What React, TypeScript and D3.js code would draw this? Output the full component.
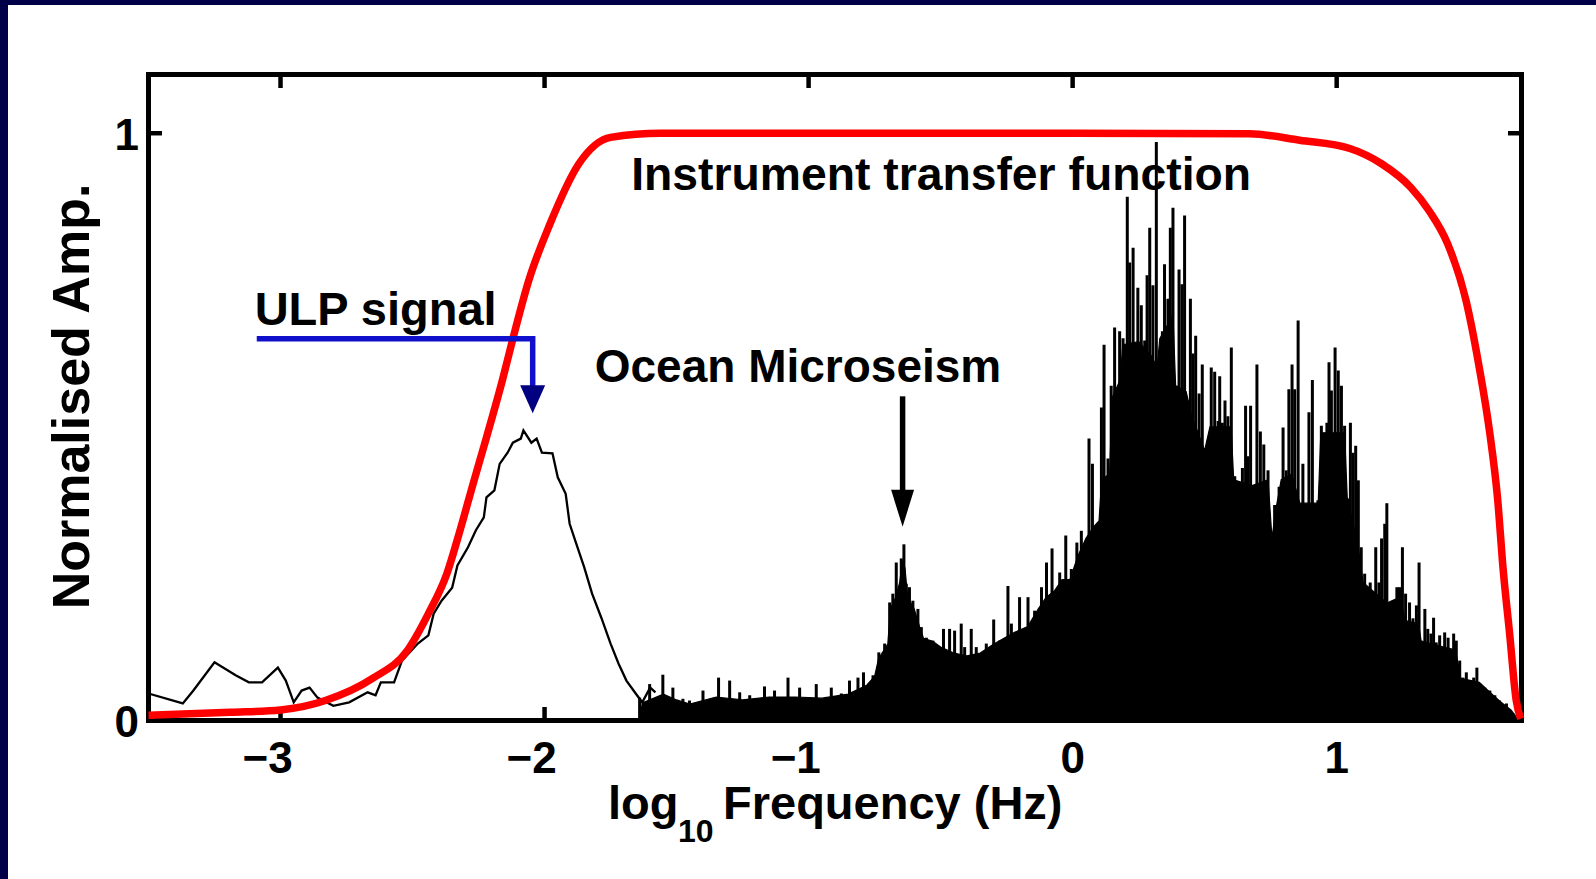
import React from "react";
import * as d3 from "d3";

const WIDTH = 1596;
const HEIGHT = 879;

// Axis set-up: log10 frequency (Hz) on x, normalised amplitude on y
const xDomain: [number, number] = [-3.5, 1.7];
const yDomain: [number, number] = [0, 1.1];
const xTicks = [-3, -2, -1, 0, 1];
const yTicks = [0, 1];

// Instrument transfer function (normalised), [log10 f, amplitude]
const transferFn: [number, number][] = [
  [-3.5, 0.009], [-3.19, 0.014], [-3.0, 0.018], [-2.83, 0.034], [-2.65, 0.072],
  [-2.52, 0.119], [-2.44, 0.182], [-2.37, 0.25], [-2.32, 0.324], [-2.27, 0.404],
  [-2.22, 0.482], [-2.16, 0.579], [-2.12, 0.65], [-2.06, 0.749], [-1.98, 0.845],
  [-1.87, 0.948], [-1.75, 0.993], [-1.56, 1.0], [-1.0, 1.0], [0.0, 1.0],
  [0.67, 0.999], [0.86, 0.988], [1.05, 0.974], [1.17, 0.948], [1.28, 0.908],
  [1.35, 0.868], [1.42, 0.812], [1.49, 0.715], [1.54, 0.601], [1.58, 0.489],
  [1.61, 0.375], [1.63, 0.26], [1.655, 0.148], [1.68, 0.034], [1.697, 0.003],
];

// Ultra-long-period part of the spectrum (thin trace)
const ulpTrace: [number, number][] = [
  [-3.5, 0.046], [-3.37, 0.029], [-3.33, 0.051], [-3.25, 0.099], [-3.17, 0.077],
  [-3.12, 0.065], [-3.07, 0.065], [-3.01, 0.09], [-2.98, 0.068], [-2.95, 0.031],
  [-2.92, 0.051], [-2.89, 0.056], [-2.86, 0.039], [-2.8, 0.025], [-2.74, 0.031],
  [-2.67, 0.048], [-2.64, 0.043], [-2.62, 0.065], [-2.57, 0.065], [-2.54, 0.102],
  [-2.48, 0.131], [-2.44, 0.145], [-2.42, 0.182], [-2.39, 0.204], [-2.35, 0.226],
  [-2.33, 0.264], [-2.29, 0.295], [-2.26, 0.324], [-2.23, 0.346], [-2.22, 0.38],
  [-2.19, 0.392], [-2.17, 0.437], [-2.14, 0.456], [-2.12, 0.473], [-2.09, 0.48],
  [-2.08, 0.494], [-2.05, 0.473], [-2.03, 0.48], [-2.01, 0.456], [-1.97, 0.455],
  [-1.95, 0.414], [-1.92, 0.386], [-1.905, 0.335], [-1.88, 0.301], [-1.85, 0.261],
  [-1.82, 0.216], [-1.785, 0.175], [-1.75, 0.131], [-1.72, 0.097], [-1.69, 0.068],
  [-1.65, 0.043], [-1.63, 0.031], [-1.6, 0.056], [-1.58, 0.048],
];

// Solid body of the dense high-frequency spectrum
const spectrumBody: [number, number][] = [
  [-1.64, 0.0], [-1.63, 0.03], [-1.55, 0.045], [-1.5, 0.035], [-1.45, 0.028],
  [-1.35, 0.04], [-1.25, 0.035], [-1.15, 0.04], [-1.05, 0.04], [-0.95, 0.038],
  [-0.85, 0.045], [-0.78, 0.06], [-0.75, 0.075], [-0.735, 0.105], [-0.7, 0.13],
  [-0.69, 0.19], [-0.67, 0.21], [-0.655, 0.235], [-0.645, 0.27], [-0.635, 0.26],
  [-0.625, 0.21], [-0.6, 0.19], [-0.58, 0.16], [-0.565, 0.14], [-0.53, 0.135],
  [-0.5, 0.125], [-0.45, 0.115], [-0.4, 0.11], [-0.35, 0.115], [-0.3, 0.13],
  [-0.26, 0.14], [-0.22, 0.15], [-0.17, 0.16], [-0.13, 0.19], [-0.1, 0.21],
  [-0.07, 0.22], [-0.04, 0.24], [-0.01, 0.24], [0.02, 0.28], [0.05, 0.31],
  [0.08, 0.33], [0.1, 0.34], [0.11, 0.41], [0.14, 0.42], [0.15, 0.55],
  [0.18, 0.58], [0.19, 0.64], [0.25, 0.645], [0.3, 0.62], [0.32, 0.6],
  [0.33, 0.65], [0.38, 0.69], [0.39, 0.57], [0.43, 0.56], [0.45, 0.52],
  [0.5, 0.46], [0.52, 0.5], [0.6, 0.5], [0.61, 0.41], [0.68, 0.4],
  [0.74, 0.41], [0.755, 0.31], [0.77, 0.36], [0.79, 0.41], [0.83, 0.42],
  [0.86, 0.37], [0.93, 0.37], [0.94, 0.49], [1.03, 0.49], [1.04, 0.38],
  [1.08, 0.3], [1.1, 0.235], [1.19, 0.2], [1.24, 0.21], [1.26, 0.17],
  [1.31, 0.165], [1.32, 0.135], [1.45, 0.12], [1.47, 0.072], [1.54, 0.065],
  [1.58, 0.048], [1.62, 0.032], [1.66, 0.018], [1.69, 0.0],
];

// Individual spectral peaks rising above the body
const spectrumPeaks: [number, number][] = [
  [-1.64, 0.039], [-1.602, 0.062], [-1.552, 0.078], [-1.514, 0.056], [-1.476, 0.037],
  [-1.451, 0.034], [-1.4, 0.051], [-1.341, 0.073], [-1.299, 0.068], [-1.261, 0.048],
  [-1.223, 0.043], [-1.167, 0.058], [-1.129, 0.051], [-1.078, 0.073], [-1.034, 0.056],
  [-0.971, 0.062], [-0.914, 0.056], [-0.876, 0.046], [-0.845, 0.068], [-0.813, 0.073],
  [-0.792, 0.082], [-0.756, 0.077], [-0.734, 0.116], [-0.712, 0.131], [-0.693, 0.201],
  [-0.681, 0.216], [-0.668, 0.269], [-0.649, 0.276], [-0.639, 0.3], [-0.63, 0.233],
  [-0.618, 0.227], [-0.605, 0.204], [-0.586, 0.19], [-0.573, 0.159], [-0.554, 0.141],
  [-0.529, 0.136], [-0.489, 0.156], [-0.466, 0.156], [-0.447, 0.153], [-0.422, 0.165],
  [-0.409, 0.125], [-0.384, 0.156], [-0.365, 0.125], [-0.327, 0.131], [-0.299, 0.172],
  [-0.277, 0.136], [-0.245, 0.229], [-0.232, 0.165], [-0.201, 0.21], [-0.169, 0.21],
  [-0.144, 0.187], [-0.118, 0.227], [-0.099, 0.269], [-0.078, 0.293], [-0.062, 0.221],
  [-0.049, 0.252], [-0.026, 0.315], [-0.005, 0.258], [0.016, 0.303], [0.033, 0.323],
  [0.045, 0.301], [0.062, 0.48], [0.075, 0.437], [0.09, 0.329], [0.109, 0.533],
  [0.119, 0.64], [0.134, 0.446], [0.146, 0.57], [0.159, 0.669], [0.178, 0.663],
  [0.191, 0.651], [0.207, 0.892], [0.216, 0.78], [0.229, 0.805], [0.247, 0.737],
  [0.26, 0.707], [0.273, 0.647], [0.282, 0.758], [0.292, 0.839], [0.304, 0.741],
  [0.317, 0.985], [0.327, 0.597], [0.34, 0.663], [0.348, 0.777], [0.361, 0.718],
  [0.37, 0.839], [0.38, 0.873], [0.393, 0.57], [0.403, 0.768], [0.414, 0.743],
  [0.424, 0.86], [0.437, 0.545], [0.446, 0.718], [0.456, 0.625], [0.466, 0.655],
  [0.479, 0.557], [0.491, 0.606], [0.503, 0.458], [0.513, 0.477], [0.525, 0.601],
  [0.538, 0.594], [0.551, 0.51], [0.557, 0.586], [0.567, 0.507], [0.577, 0.545],
  [0.588, 0.518], [0.601, 0.635], [0.614, 0.416], [0.633, 0.378], [0.643, 0.43],
  [0.655, 0.536], [0.664, 0.45], [0.674, 0.536], [0.686, 0.384], [0.698, 0.606],
  [0.711, 0.492], [0.724, 0.47], [0.74, 0.426], [0.753, 0.315], [0.765, 0.367],
  [0.782, 0.398], [0.797, 0.499], [0.809, 0.426], [0.819, 0.564], [0.831, 0.606],
  [0.841, 0.564], [0.854, 0.681], [0.872, 0.437], [0.883, 0.366], [0.895, 0.525],
  [0.908, 0.58], [0.917, 0.366], [0.929, 0.375], [0.942, 0.502], [0.955, 0.49],
  [0.963, 0.507], [0.971, 0.61], [0.98, 0.562], [0.994, 0.635], [1.006, 0.596],
  [1.018, 0.57], [1.03, 0.502], [1.043, 0.378], [1.052, 0.507], [1.062, 0.456],
  [1.072, 0.468], [1.082, 0.409], [1.093, 0.295], [1.106, 0.25], [1.119, 0.216],
  [1.127, 0.235], [1.148, 0.295], [1.16, 0.235], [1.17, 0.31], [1.182, 0.335],
  [1.19, 0.37], [1.201, 0.19], [1.216, 0.184], [1.228, 0.227], [1.238, 0.227],
  [1.249, 0.295], [1.261, 0.216], [1.276, 0.201], [1.289, 0.174], [1.302, 0.196],
  [1.312, 0.269], [1.322, 0.136], [1.334, 0.19], [1.345, 0.156], [1.357, 0.148],
  [1.367, 0.175], [1.377, 0.133], [1.39, 0.145], [1.409, 0.15], [1.422, 0.141],
  [1.434, 0.122], [1.443, 0.148], [1.453, 0.136], [1.466, 0.102], [1.478, 0.073],
  [1.491, 0.082], [1.506, 0.068], [1.519, 0.073], [1.531, 0.09], [1.542, 0.063],
  [1.561, 0.056], [1.58, 0.051], [1.599, 0.043], [1.617, 0.034], [1.643, 0.029],
  [1.668, 0.012],
];

// Annotation arrows, in data coordinates
const ulpArrow = { startX: -3.09, elbowY: 0.65, x: -2.045, tipY: 0.523 };
const microseismArrow = { x: -0.644, startY: 0.552, tipY: 0.33 };

// Annotation labels, [text, log10 f, amplitude at baseline]
const labels: { text: string; fx: number; fy: number; size: number }[] = [
  { text: "Instrument transfer function", fx: -1.672, fy: 0.903, size: 46.3 },
  { text: "ULP signal", fx: -3.098, fy: 0.673, size: 47 },
  { text: "Ocean Microseism", fx: -1.81, fy: 0.576, size: 46 },
];

const FONT = "'Liberation Sans', Arial, Helvetica, sans-serif";

export default function App() {
  const plot = { left: 148.5, right: 1521.5, top: 74.5, bottom: 720.5 };
  const x = d3.scaleLinear().domain(xDomain).range([plot.left, plot.right]);
  const y = d3.scaleLinear().domain(yDomain).range([plot.bottom, plot.top]);

  const redPath = d3
    .line<[number, number]>()
    .x((d) => x(d[0]))
    .y((d) => y(d[1]))
    .curve(d3.curveMonotoneX)(transferFn) as string;

  const ulpPath = d3
    .line<[number, number]>()
    .x((d) => x(d[0]))
    .y((d) => y(d[1]))(ulpTrace) as string;

  const bodyPath = d3
    .area<[number, number]>()
    .x((d) => x(d[0]))
    .y0(y(0))
    .y1((d) => y(d[1]))(spectrumBody) as string;

  const tickLen = 13.5;
  const tickFont = 44;
  const digitHalf = (0.556 * tickFont) / 2;

  // ULP arrow geometry
  const ua = {
    x0: x(ulpArrow.startX),
    yElbow: y(ulpArrow.elbowY),
    x1: x(ulpArrow.x),
    tip: y(ulpArrow.tipY),
  };
  const ma = { x: x(microseismArrow.x), y0: y(microseismArrow.startY), tip: y(microseismArrow.tipY) };

  return (
    <div style={{ position: "absolute", left: 0, top: 0, width: WIDTH, height: HEIGHT }}>
      <svg width={WIDTH} height={HEIGHT} viewBox={`0 0 ${WIDTH} ${HEIGHT}`} style={{ display: "block" }}>
        {/* slide frame */}
        <rect x={0} y={0} width={WIDTH} height={HEIGHT} fill="#000048" />
        <rect x={8} y={5} width={WIDTH - 8} height={HEIGHT - 5} fill="#ffffff" />

        {/* spectrum */}
        <path d={bodyPath} fill="#000" stroke="#000" strokeWidth={1.2} />
        {spectrumPeaks.map(([f, a], i) => (
          <line key={i} x1={x(f)} x2={x(f)} y1={y(0)} y2={y(a)} stroke="#000" strokeWidth={3} />
        ))}
        <path d={ulpPath} fill="none" stroke="#000" strokeWidth={2.3} strokeLinejoin="miter" />

        {/* axes box and ticks */}
        <rect
          x={plot.left}
          y={plot.top}
          width={plot.right - plot.left}
          height={plot.bottom - plot.top}
          fill="none"
          stroke="#000"
          strokeWidth={5}
        />
        {xTicks.map((t) => (
          <g key={`xt${t}`}>
            <line x1={x(t)} x2={x(t)} y1={plot.bottom} y2={plot.bottom - tickLen} stroke="#000" strokeWidth={4.5} />
            <line x1={x(t)} x2={x(t)} y1={plot.top} y2={plot.top + tickLen} stroke="#000" strokeWidth={4.5} />
            <text
              x={x(t) + digitHalf}
              y={773}
              textAnchor="end"
              fontFamily={FONT}
              fontWeight="bold"
              fontSize={tickFont}
              fill="#000"
            >
              {t < 0 ? `\u2212${Math.abs(t)}` : `${t}`}
            </text>
          </g>
        ))}
        {yTicks.map((t) => (
          <g key={`yt${t}`}>
            <line x1={plot.left} x2={plot.left + tickLen} y1={y(t)} y2={y(t)} stroke="#000" strokeWidth={4.5} />
            <line x1={plot.right} x2={plot.right - tickLen} y1={y(t)} y2={y(t)} stroke="#000" strokeWidth={4.5} />
            <text
              x={139}
              y={y(t) + 16.5}
              textAnchor="end"
              fontFamily={FONT}
              fontWeight="bold"
              fontSize={tickFont}
              fill="#000"
            >
              {t}
            </text>
          </g>
        ))}

        {/* instrument response */}
        <path d={redPath} fill="none" stroke="#ff0000" strokeWidth={7.5} strokeLinecap="butt" />

        {/* ULP arrow */}
        <polyline
          points={`${ua.x0},${ua.yElbow} ${ua.x1},${ua.yElbow} ${ua.x1},${ua.tip - 20}`}
          fill="none"
          stroke="#0f0fcc"
          strokeWidth={5.5}
          strokeLinejoin="miter"
        />
        <polygon
          points={`${ua.x1 - 12.5},${ua.tip - 28} ${ua.x1 + 12.5},${ua.tip - 28} ${ua.x1},${ua.tip}`}
          fill="#000080"
        />

        {/* microseism arrow */}
        <line x1={ma.x} x2={ma.x} y1={ma.y0} y2={ma.tip - 25} stroke="#000" strokeWidth={5.5} />
        <polygon
          points={`${ma.x - 11.5},${ma.tip - 37} ${ma.x + 11.5},${ma.tip - 37} ${ma.x},${ma.tip}`}
          fill="#000"
        />

        {/* annotations */}
        {labels.map((l) => (
          <text
            key={l.text}
            x={x(l.fx)}
            y={y(l.fy)}
            fontFamily={FONT}
            fontWeight="bold"
            fontSize={l.size}
            fill="#000"
          >
            {l.text}
          </text>
        ))}

        {/* axis titles */}
        <text x={608} y={819} fontFamily={FONT} fontWeight="bold" fontSize={47} fill="#000">
          log
        </text>
        <text x={678} y={842} fontFamily={FONT} fontWeight="bold" fontSize={32} fill="#000">
          10
        </text>
        <text x={723} y={819} fontFamily={FONT} fontWeight="bold" fontSize={47} fill="#000">
          Frequency (Hz)
        </text>
        <text
          transform="translate(89, 396.5) rotate(-90)"
          textAnchor="middle"
          fontFamily={FONT}
          fontWeight="bold"
          fontSize={52}
          fill="#000"
        >
          Normalised Amp.
        </text>
      </svg>
    </div>
  );
}
